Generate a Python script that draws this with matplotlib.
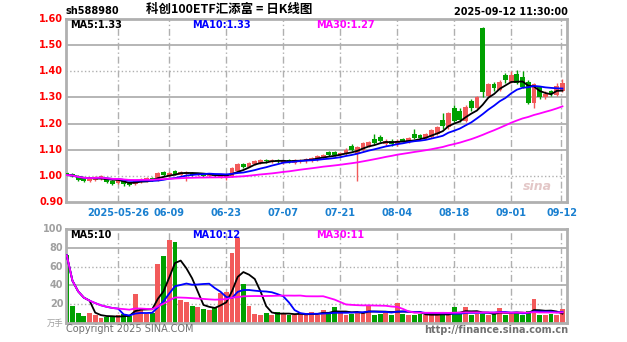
import numpy as np
import pandas as pd
import matplotlib
matplotlib.use("Agg")
import matplotlib.pyplot as plt

plt.rcParams['font.family'] = ['DejaVu Sans', 'Noto Sans CJK SC']

# daily candles, 2025-05-13 .. 2025-09-12
opens = [1.010, 1.008, 1.000, 0.990, 0.982, 0.985, 0.990, 0.990, 0.980, 0.972,
         0.982, 0.975, 0.968, 0.975, 0.982, 0.992, 0.985, 1.015, 1.000, 1.018,
         1.005, 1.008, 1.012, 1.002, 1.008, 0.998, 1.005, 0.995, 0.990, 1.000,
         1.020, 1.045, 1.035, 1.045, 1.050, 1.062, 1.052, 1.062, 1.050, 1.060,
         1.050, 1.055, 1.055, 1.058, 1.062, 1.068, 1.090, 1.090, 1.080, 1.085,
         1.115, 1.085, 1.100, 1.115, 1.140, 1.150, 1.120, 1.135, 1.120, 1.140,
         1.130, 1.160, 1.155, 1.145, 1.150, 1.160, 1.215, 1.185, 1.260, 1.250,
         1.210, 1.285, 1.260, 1.565, 1.305, 1.350, 1.330, 1.385, 1.360, 1.390,
         1.380, 1.360, 1.280, 1.340, 1.300, 1.325, 1.310, 1.325]
closes = [1.003, 1.000, 0.985, 0.982, 0.988, 0.995, 0.998, 0.975, 0.970, 0.985,
          0.968, 0.965, 0.982, 0.988, 0.990, 0.985, 1.012, 1.005, 1.012, 1.008,
          1.015, 1.015, 1.005, 1.008, 1.000, 1.005, 0.998, 1.002, 1.000, 1.030,
          1.045, 1.035, 1.050, 1.055, 1.060, 1.055, 1.060, 1.055, 1.058, 1.052,
          1.062, 1.062, 1.065, 1.068, 1.075, 1.080, 1.080, 1.080, 1.088, 1.100,
          1.100, 1.110, 1.125, 1.128, 1.125, 1.135, 1.135, 1.120, 1.135, 1.132,
          1.145, 1.145, 1.145, 1.160, 1.175, 1.185, 1.190, 1.240, 1.210, 1.215,
          1.265, 1.260, 1.300, 1.320, 1.350, 1.335, 1.360, 1.365, 1.385, 1.355,
          1.340, 1.280, 1.350, 1.300, 1.315, 1.315, 1.345, 1.355]
highs = [1.015, 1.012, 1.002, 0.993, 0.992, 0.998, 1.002, 0.993, 0.983, 0.988,
         0.985, 0.978, 0.985, 0.992, 0.994, 0.995, 1.016, 1.020, 1.016, 1.022,
         1.018, 1.020, 1.015, 1.012, 1.011, 1.008, 1.008, 1.005, 1.004, 1.034,
         1.050, 1.048, 1.054, 1.060, 1.064, 1.066, 1.064, 1.066, 1.062, 1.064,
         1.066, 1.066, 1.070, 1.072, 1.080, 1.085, 1.096, 1.094, 1.092, 1.105,
         1.120, 1.115, 1.130, 1.135, 1.160, 1.158, 1.140, 1.140, 1.140, 1.145,
         1.150, 1.180, 1.160, 1.165, 1.180, 1.190, 1.240, 1.245, 1.270, 1.260,
         1.270, 1.295, 1.305, 1.570, 1.355, 1.360, 1.365, 1.395, 1.400, 1.405,
         1.400, 1.365, 1.355, 1.345, 1.325, 1.330, 1.355, 1.370]
lows = [1.000, 0.996, 0.980, 0.978, 0.978, 0.982, 0.986, 0.972, 0.965, 0.968,
        0.963, 0.960, 0.965, 0.972, 0.978, 0.980, 0.982, 1.000, 0.996, 1.004,
        1.000, 0.982, 1.000, 0.998, 0.996, 0.994, 0.994, 0.990, 0.985, 0.996,
        1.016, 1.030, 1.032, 1.042, 1.046, 1.050, 1.048, 1.050, 1.046, 1.048,
        1.046, 1.050, 1.050, 1.054, 1.058, 1.064, 1.075, 1.075, 1.076, 1.080,
        1.095, 0.980, 1.095, 1.110, 1.120, 1.130, 1.115, 1.115, 1.115, 1.128,
        1.125, 1.140, 1.140, 1.140, 1.145, 1.155, 1.180, 1.180, 1.205, 1.205,
        1.205, 1.250, 1.255, 1.300, 1.300, 1.325, 1.325, 1.355, 1.355, 1.350,
        1.335, 1.275, 1.260, 1.295, 1.295, 1.305, 1.305, 1.320]
# volume, 万手
volumes = [72, 18, 11, 7, 11, 8, 5, 6, 6, 9,
           10, 7, 31, 14, 10, 11, 63, 71, 88, 86,
           24, 22, 18, 17, 15, 14, 16, 32, 33, 74,
           90, 42, 18, 10, 9, 11, 8, 12, 10, 9,
           8, 10, 9, 12, 9, 14, 10, 17, 11, 9,
           10, 12, 11, 19, 9, 10, 11, 9, 21, 10,
           9, 8, 10, 9, 8, 9, 10, 9, 17, 10,
           17, 9, 10, 10, 9, 10, 16, 9, 10, 11,
           9, 13, 26, 9, 8, 10, 8, 15]

date_ticks = [9, 18, 28, 38, 48, 58, 68, 78, 87]
date_labels = ['2025-05-26', '06-09', '06-23', '07-07', '07-21', '08-04', '08-18', '09-01', '09-12']
price_ticks = [0.90, 1.00, 1.10, 1.20, 1.30, 1.40, 1.50, 1.60]
vol_ticks = [20, 40, 60, 80, 100]

RED = '#f25a5a'
GREEN = '#00a000'
GRID = '#b0b0b0'

W, H = 627, 342
fig = plt.figure(figsize=(W / 100, H / 100), dpi=100)
fig.patch.set_facecolor('white')


def px_axes(left, top, right, bottom):
    return fig.add_axes([left / W, 1 - bottom / H, (right - left) / W, (bottom - top) / H])


ax = px_axes(66, 19, 567, 202)
axv = px_axes(66, 229, 567, 323)

df = pd.DataFrame({'open': opens, 'close': closes, 'high': highs, 'low': lows, 'vol': volumes})
x = np.arange(len(df))
up = df['close'] >= df['open']
colors = np.where(up, RED, GREEN)

for a in (ax, axv):
    a.set_xlim(-0.13, 87.8)
    for s in a.spines.values():
        s.set_color(GRID)
        s.set_linewidth(2)
    a.tick_params(length=0)
    a.set_xticks([])
    for t in date_ticks[:-1]:
        a.axvline(t, color=GRID, lw=1, ls=(0, (5, 2, 1, 2)), zorder=0)
    a.axvline(86.7, color=GRID, lw=1, ls=(0, (5, 2, 1, 2)), zorder=0)

# price panel
ax.set_ylim(0.9, 1.6)
for p in price_ticks[1:-1]:
    style = ':' if p in (1.00, 1.40) else '-'
    ax.axhline(p, color=GRID, lw=1.3 if style == '-' else 1, ls=style, zorder=0)
ax.set_yticks([])
for p in price_ticks:
    ax.text(-0.6, p, f'{p:.2f}', color='red', fontsize=7, fontweight='bold',
            ha='right', va='center', clip_on=False)

ax.vlines(x, df['low'], df['high'], color=colors, lw=1, zorder=2)
body_low = np.minimum(df['open'], df['close'])
body_h = np.maximum(np.abs(df['close'] - df['open']), 0.003)
ax.bar(x, body_h, bottom=body_low, width=0.85, color=colors, zorder=3)

ma_colors = {5: 'black', 10: 'blue', 30: 'magenta'}
for n, c in ma_colors.items():
    ax.plot(x, df['close'].rolling(n, min_periods=1).mean(), color=c, lw=1.3, zorder=4)

# volume panel
axv.set_ylim(0, 100)
for v in (20, 40, 60, 80):
    style = ':' if v in (20, 60) else '-'
    axv.axhline(v, color=GRID, lw=1.3 if style == '-' else 1, ls=style, zorder=0)
axv.set_yticks([])
for v in vol_ticks:
    axv.text(-0.6, v, str(v), color='#a0a0a0', fontsize=7, fontweight='bold',
             ha='right', va='center', clip_on=False)
axv.text(-0.6, 0, '万手', color='#a0a0a0', fontsize=6, ha='right', va='center',
         family=['Noto Sans CJK SC', 'DejaVu Sans'], clip_on=False)
axv.bar(x, df['vol'], width=0.85, color=colors, zorder=2)
for n, c in ma_colors.items():
    axv.plot(x, df['vol'].rolling(n, min_periods=1).mean(), color=c, lw=1.3, zorder=4)

# date labels between panels
for t, lab in zip(date_ticks, date_labels):
    ax.text(t, -0.035, lab, color='#1a80d0', fontsize=7, fontweight='bold',
            ha='center', va='top', transform=ax.get_xaxis_transform(), clip_on=False)

# legends
ma5 = df['close'].rolling(5).mean().iloc[-1]
ma10 = df['close'].rolling(10).mean().iloc[-1]
ma30 = df['close'].rolling(30).mean().iloc[-1]
fig.text(70 / W, 1 - 25 / H, f'MA5:{ma5:.2f}', color='black', fontsize=7, fontweight='bold', va='center')
fig.text(192 / W, 1 - 25 / H, f'MA10:{ma10:.2f}', color='blue', fontsize=7, fontweight='bold', va='center')
fig.text(316 / W, 1 - 25 / H, f'MA30:{ma30:.2f}', color='magenta', fontsize=7, fontweight='bold', va='center')
vma5 = df['vol'].rolling(5).mean().iloc[-1]
vma10 = df['vol'].rolling(10).mean().iloc[-1]
vma30 = df['vol'].rolling(30).mean().iloc[-1]
fig.text(70 / W, 1 - 235 / H, f'MA5:{vma5:.0f}', color='black', fontsize=7, fontweight='bold', va='center')
fig.text(192 / W, 1 - 235 / H, f'MA10:{vma10:.0f}', color='blue', fontsize=7, fontweight='bold', va='center')
fig.text(316 / W, 1 - 235 / H, f'MA30:{vma30:.0f}', color='magenta', fontsize=7, fontweight='bold', va='center')

# header
fig.text(66 / W, 1 - 11 / H, 'sh588980', color='black', fontsize=7, fontweight='bold', va='center')
fig.text(229 / W, 1 - 10 / H, '科创100ETF汇添富 = 日K线图', color='black', fontsize=9, fontweight='bold',
         ha='center', va='center', family=['Noto Sans CJK SC', 'DejaVu Sans'])
fig.text(568 / W, 1 - 12 / H, '2025-09-12 11:30:00', color='black', fontsize=7, fontweight='bold',
         ha='right', va='center')

# watermark and footer
fig.text(537 / W, 1 - 187 / H, 'sina', color='#d8b0b0', fontsize=9, fontweight='bold', alpha=0.7,
         ha='center', va='center', style='italic')
fig.text(66 / W, 1 - 329 / H, 'Copyright 2025 SINA.COM', color='#707070', fontsize=7, va='center')
fig.text(568 / W, 1 - 330 / H, 'http://finance.sina.com.cn', color='#707070', fontsize=7,
         fontweight='bold', ha='right', va='center')

fig.savefig('out.png', dpi=100, facecolor='white')
